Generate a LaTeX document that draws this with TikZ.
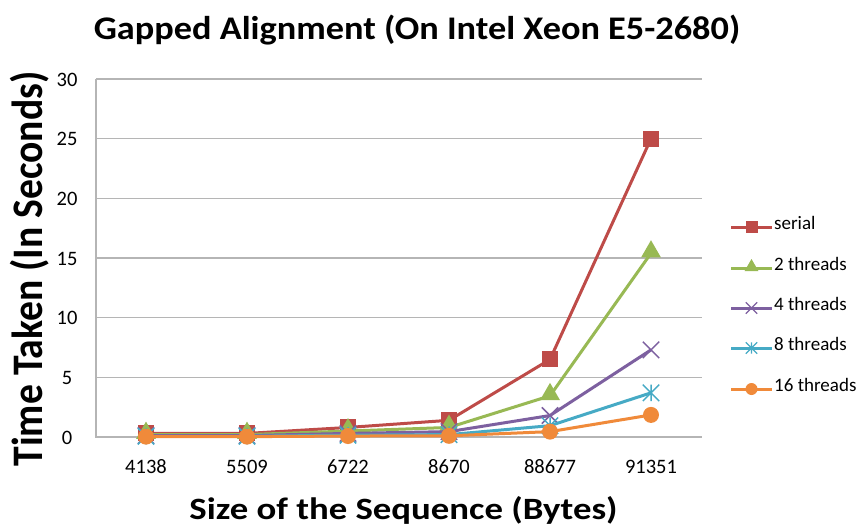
\documentclass[tikz,border=0pt]{standalone}
\usepackage{fontspec}
\setmainfont{Carlito}
\usetikzlibrary{shapes.geometric}

\definecolor{serialc}{HTML}{BE4B48}
\definecolor{twoc}{HTML}{98B954}
\definecolor{fourc}{HTML}{7D60A0}
\definecolor{eightc}{HTML}{46AAC5}
\definecolor{sixteenc}{HTML}{F08A3A}
\definecolor{gridc}{HTML}{B5B5B5}

\tikzset{
  gridline/.style={draw=gridc, line width=1.4pt},
  series/.style={line width=3pt, line join=round},
  sqmark/.style={rectangle, fill=serialc, inner sep=0pt, minimum size=16pt},
  trimark/.style={regular polygon, regular polygon sides=3, fill=twoc, inner sep=0pt, minimum size=23pt},
  dotmark/.style={circle, fill=sixteenc, inner sep=0pt, minimum size=16pt},
  crossmark/.style={inner sep=0pt, minimum size=16pt},
  ticklabel/.style={font=\fontsize{20.5}{22}\selectfont, inner sep=0pt},
  legendlabel/.style={font=\fontsize{19}{20}\selectfont, inner sep=0pt, anchor=mid west},
  titlelabel/.style={font=\bfseries\fontsize{33}{38}\selectfont, inner sep=0pt, anchor=base},
  axislabel/.style={font=\bfseries, inner sep=0pt, anchor=base},
}

% value-to-pixel mapping: 0 s at 437, 30 s at 79
\newcommand\ypos[1]{437-(#1)*11.933}

\begin{document}
\begin{tikzpicture}[x=1pt, y=-1pt]
  \useasboundingbox (0,0) rectangle (863,528);
  \fill[white] (0,0) rectangle (863,528);

  % title and axis titles
  \node[titlelabel] (title) at (417,39)
    {\scalebox{1.10}[1]{Gapped Alignment (On Intel Xeon E5-2680)}};
  \node[axislabel, rotate=90] (ylab) at (42,269)
    {\scalebox{1}[1.1]{\fontsize{39.6}{44}\selectfont Time Taken (In Seconds)}};
  \node[axislabel] (xlab) at (403.5,519)
    {\scalebox{1.186}[1]{\fontsize{31}{36}\selectfont Size of the Sequence (Bytes)}};

  % horizontal grid and value labels
  \foreach \v in {5,10,...,30} {
    \draw[gridline] (96,{\ypos{\v}}) -- (702,{\ypos{\v}});
  }
  \foreach \v in {0,5,...,30} {
    \node[ticklabel, anchor=center] (yt\v) at (67,{\ypos{\v}+0.5}) {\v};
  }
  % axes
  \coordinate (origin) at (96,437);
  \coordinate (ytop) at (96,79);
  \coordinate (xend) at (702,437);
  \draw[gridline] (ytop) -- (origin) -- (xend);

  % category labels
  \foreach \lab [count=\i from 0] in {4138,5509,6722,8670,88677,91351} {
    \node[ticklabel, anchor=base] (xt\i) at ({146+101*\i},473) {\lab};
  }

  % data points
  \foreach \name/\vals in {s/{0.3,0.3,0.8,1.4,6.5,25},
                           t/{0.2,0.2,0.5,0.8,3.45,15.4},
                           f/{0.12,0.12,0.3,0.45,1.8,7.3},
                           e/{0.06,0.06,0.15,0.2,0.95,3.7},
                           h/{0.03,0.03,0.08,0.1,0.45,1.85}} {
    \foreach \v [count=\i from 0] in \vals {
      \coordinate (\name\i) at ({146+101*\i},{\ypos{\v}});
    }
  }

  % serial
  \draw[series, serialc] (s0) -- (s1) -- (s2) -- (s3) -- (s4) -- (s5);
  \foreach \i in {0,...,5} \node[sqmark] (ms\i) at (s\i) {};
  % 2 threads
  \draw[series, twoc] (t0) -- (t1) -- (t2) -- (t3) -- (t4) -- (t5);
  \foreach \i in {0,...,5} \node[trimark, yshift=1.5pt] (mt\i) at (t\i) {};
  % 4 threads
  \draw[series, fourc] (f0) -- (f1) -- (f2) -- (f3) -- (f4) -- (f5);
  \foreach \i in {0,...,5} {
    \node[crossmark] (mf\i) at (f\i) {};
    \draw[fourc, line width=1.5pt] (mf\i.north west) -- (mf\i.south east)
                                   (mf\i.north east) -- (mf\i.south west);
  }
  % 8 threads
  \draw[series, eightc] (e0) -- (e1) -- (e2) -- (e3) -- (e4) -- (e5);
  \foreach \i in {0,...,5} {
    \node[crossmark] (me\i) at (e\i) {};
    \draw[eightc, line width=1.5pt] (me\i.north west) -- (me\i.south east)
                                    (me\i.north east) -- (me\i.south west)
                                    (me\i.north) -- (me\i.south);
  }
  % 16 threads
  \draw[series, sixteenc] (h0) -- (h1) -- (h2) -- (h3) -- (h4) -- (h5);
  \foreach \i in {0,...,5} \node[dotmark] (mh\i) at (h\i) {};

  % legend
  \foreach \y/\key/\col/\lab in {227/s/serialc/serial, 268/t/twoc/2 threads,
                                 308/f/fourc/4 threads, 348/e/eightc/8 threads,
                                 389/h/sixteenc/16 threads} {
    \coordinate (la\key) at (731,\y);
    \coordinate (lb\key) at (772,\y);
    \coordinate (lc\key) at (751.5,\y);
    \draw[series, \col] (la\key) -- (lb\key);
    \node[legendlabel] (lt\key) at (774,\y) {\lab};
  }
  \node[sqmark, minimum size=12pt] (lms) at (lcs) {};
  \node[trimark, minimum size=16pt, yshift=1pt] (lmt) at (lct) {};
  \node[crossmark, minimum size=11pt] (lmf) at (lcf) {};
  \draw[fourc, line width=1.2pt] (lmf.north west) -- (lmf.south east) (lmf.north east) -- (lmf.south west);
  \node[crossmark, minimum size=11pt] (lme) at (lce) {};
  \draw[eightc, line width=1.2pt] (lme.north west) -- (lme.south east) (lme.north east) -- (lme.south west) (lme.north) -- (lme.south);
  \node[dotmark, minimum size=12pt] (lmh) at (lch) {};
\end{tikzpicture}
\end{document}
